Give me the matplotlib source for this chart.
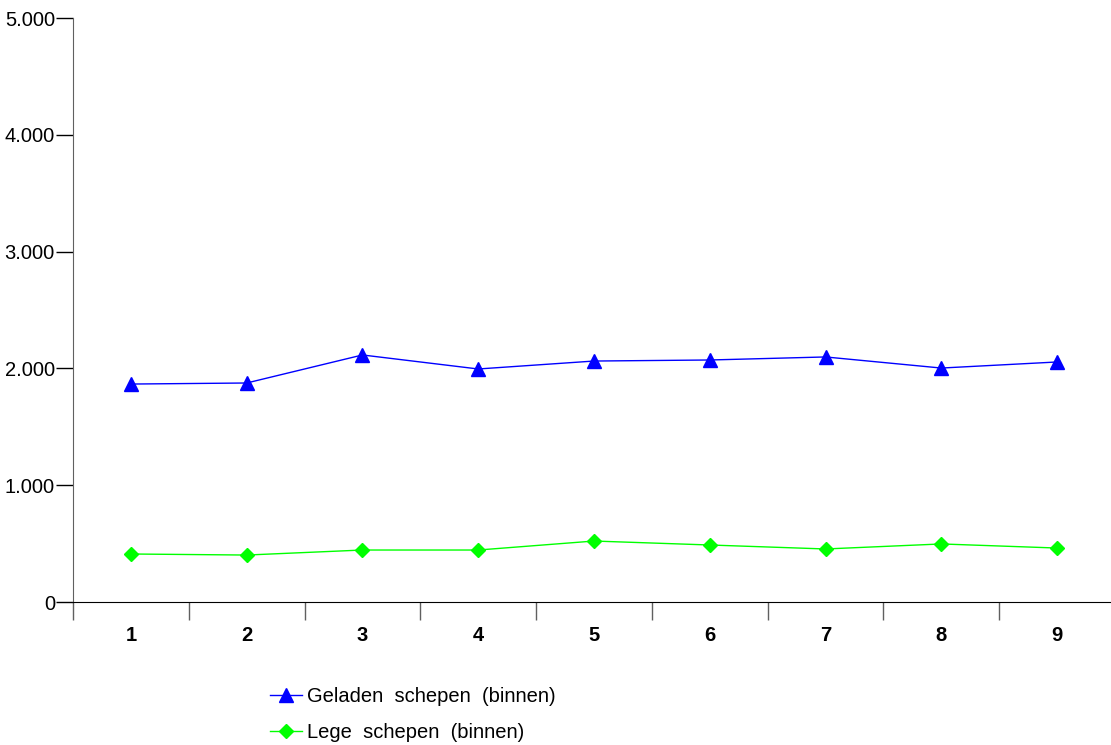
import matplotlib
matplotlib.use("Agg")
import matplotlib.pyplot as plt
from matplotlib.ticker import FuncFormatter, FixedLocator, NullFormatter

plt.rcParams["font.family"] = ["Liberation Sans", "DejaVu Sans"]

CATEGORIES = ["1", "2", "3", "4", "5", "6", "7", "8", "9"]
GELADEN = [1866, 1875, 2115, 1995, 2063, 2072, 2098, 2003, 2055]
LEGE = [411, 402, 445, 445, 522, 488, 454, 497, 462]
Y_TICKS = [0, 1000, 2000, 3000, 4000, 5000]

BLUE = "#0000FF"
GREEN = "#00FF00"
GREY = "#606060"


def _dutch_thousands(value, _pos):
    return f"{int(value):,}".replace(",", ".")


W, H = 1111, 745
fig = plt.figure(figsize=(W / 100, H / 100), dpi=100)
ax = fig.add_axes([73 / W, (H - 602) / H, (1115 - 73) / W, (602 - 18) / H])

x = list(range(len(CATEGORIES)))
ax.plot(x, GELADEN, color=BLUE, lw=1.0, marker="^", markersize=10,
        label="Geladen  schepen  (binnen)")
ax.plot(x, LEGE, color=GREEN, lw=1.0, marker="D", markersize=7.5,
        label="Lege  schepen  (binnen)")

ax.set_xlim(-0.5, len(CATEGORIES) - 0.5)
ax.set_ylim(0, 5000)
ax.set_yticks(Y_TICKS)
ax.yaxis.set_major_formatter(FuncFormatter(_dutch_thousands))

# category boundaries as major ticks, labels at the centres
ax.xaxis.set_major_locator(FixedLocator([i - 0.5 for i in range(len(CATEGORIES) + 1)]))
ax.xaxis.set_major_formatter(NullFormatter())
ax.xaxis.set_minor_locator(FixedLocator(x))
ax.set_xticklabels(CATEGORIES, minor=True, fontsize=14.5, fontweight="bold")
ax.tick_params(axis="x", which="minor", length=0, pad=17)
ax.tick_params(axis="x", which="major", length=13, width=1, color=GREY)
ax.tick_params(axis="y", length=12, width=1, color="black", labelsize=14.5, pad=1)

for side in ("top", "right"):
    ax.spines[side].set_visible(False)
ax.spines["left"].set_color(GREY)
ax.spines["bottom"].set_color("black")

fig.legend(loc="upper left", bbox_to_anchor=(270 / W, 1 - 687 / H), frameon=False,
           fontsize=14.5, handlelength=1.6, handletextpad=0.25, labelspacing=0.85,
           borderpad=0, borderaxespad=0)

fig.savefig("out.png", dpi=100)
